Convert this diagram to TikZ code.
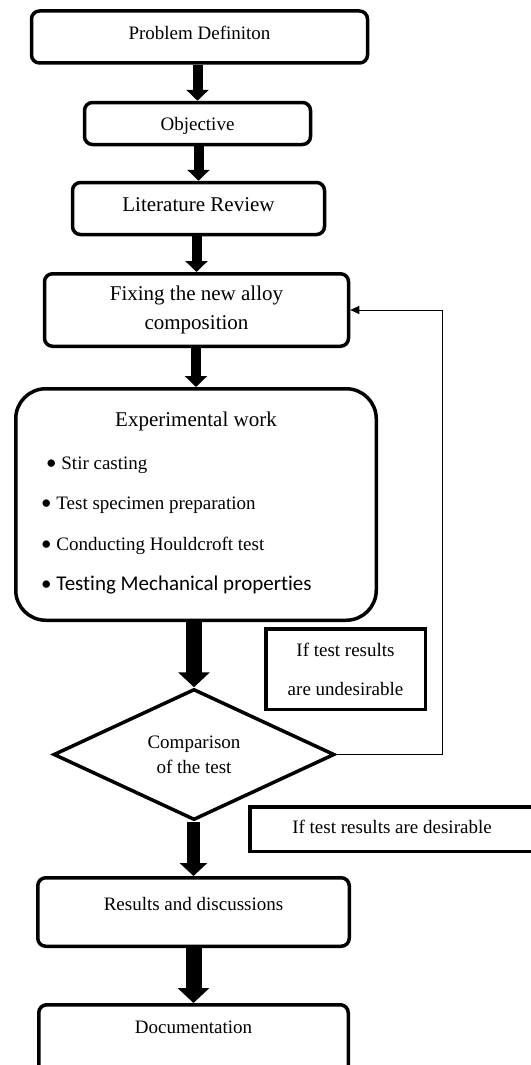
\documentclass[tikz,border=0pt]{standalone}
\usepackage{fontspec}
\setmainfont{Liberation Serif}
\newfontfamily\calibrifont[Ligatures=CommonOff]{Carlito}
\usetikzlibrary{positioning,shapes.geometric,arrows.meta}

\newcommand{\normtxt}{\fontsize{19}{25}\selectfont}
\newcommand{\bigtxt}{\fontsize{21}{29}\selectfont}
\newcommand{\dotitem}{{\calibrifont\fontsize{21}{25}\selectfont\textbullet}\ }

\tikzstyle{stepbox} = [rectangle, draw, line width=3.5pt, rounded corners=8pt, align=center, font=\normtxt]
\tikzstyle{expbox} = [rectangle, draw, line width=3.5pt, rounded corners=30pt]
\tikzstyle{decision} = [diamond, draw, line width=3.5pt, align=center, font=\normtxt, inner sep=0pt]
\tikzstyle{note} = [rectangle, draw, line width=3.5pt, align=center, font=\normtxt]
\tikzstyle{item} = [anchor=base west, inner sep=0pt, font=\normtxt]
\tikzstyle{flow} = [line width=10pt, -{Triangle[length=11pt, width=22pt]}]
\tikzstyle{midflow} = [line width=13pt, -{Triangle[length=13pt, width=27pt]}]
\tikzstyle{bigflow} = [line width=16pt, -{Triangle[length=15pt, width=31pt]}]
\tikzstyle{loopback} = [line width=0.9pt, -{Triangle[length=9pt, width=8pt]}]

\begin{document}
\begin{tikzpicture}[x=1pt, y=1pt]
\useasboundingbox (0,0) rectangle (530,-1065);
            \node[stepbox, minimum width=336pt, minimum height=52pt, text height=13pt, text depth=7.5pt] (prob) at (199.5,-37) {Problem Definiton};
            \node[stepbox, below of=prob, node distance=86.5pt, xshift=-2pt, minimum width=226pt, minimum height=42pt, text height=13pt, text depth=0pt] (obj) {Objective};
            \node[stepbox, below of=obj, node distance=85pt, xshift=1pt, minimum width=252pt, minimum height=52pt, font=\bigtxt, text height=14pt, text depth=8pt] (lit) {Literature Review};
            \node[stepbox, below of=lit, node distance=101.5pt, xshift=-2pt, minimum width=304pt, minimum height=72.5pt, font=\bigtxt] (fix) {Fixing the new alloy\\composition};
            \node[expbox, below of=fix, node distance=194.5pt, xshift=-0.5pt, minimum width=360.5pt, minimum height=231.5pt] (exp) {};
            \node[font=\bigtxt, anchor=base] (exptitle) at ([yshift=-39.5pt]exp.north) {Experimental work};
            \node[item] (stir) at ([xshift=32pt, yshift=-82.5pt]exp.north west) {\dotitem Stir casting};
            \node[item] (spec) at ([xshift=27pt, yshift=-122pt]exp.north west) {\dotitem Test specimen preparation};
            \node[item] (hould) at ([xshift=27pt, yshift=-163pt]exp.north west) {\dotitem Conducting Houldcroft test};
            \node[item, font=\calibrifont\fontsize{21}{25}\selectfont] (mech) at ([xshift=27pt, yshift=-203pt]exp.north west) {\dotitem Testing Mechanical properties};
            \node[decision, below of=exp, node distance=250pt, xshift=-2pt, minimum width=281pt, minimum height=131pt] (cmp) {Comparison\\of the test};
            \node[note, right of=cmp, node distance=151.5pt, yshift=85.5pt, minimum width=159.5pt, minimum height=80.5pt] (undes) {If test results\\[14pt]are undesirable};
            \node[note, right of=cmp, node distance=198pt, yshift=-74.5pt, minimum width=284pt, minimum height=44.5pt, text height=13pt, text depth=5pt] (des) {If test results are desirable};
            \node[stepbox, below of=cmp, node distance=157.5pt, xshift=-0.5pt, minimum width=311.5pt, minimum height=68.5pt, text height=13pt, text depth=15.5pt] (res) {Results and discussions};
            \node[stepbox, below of=res, node distance=127pt, minimum width=309.5pt, minimum height=68.5pt, text height=13pt, text depth=25pt] (doc) {Documentation};

            \draw[flow] (prob.south -| obj.north) -- (obj.north);
            \draw[flow] (obj.south -| lit.north) -- (lit.north);
            \draw[flow] (lit.south -| fix.north) -- (fix.north);
            \draw[flow] (fix.south -| exp.north) -- (exp.north);
            \draw[bigflow] (exp.south -| cmp.north) -- (cmp.north);
            \draw[midflow] (cmp.south -| res.north) -- (res.north);
            \draw[bigflow] (res.south -| doc.north) -- (doc.north);
            \draw[loopback] (cmp.east) -- ++(106.5,0) |- (fix.east);
\end{tikzpicture}
\end{document}
